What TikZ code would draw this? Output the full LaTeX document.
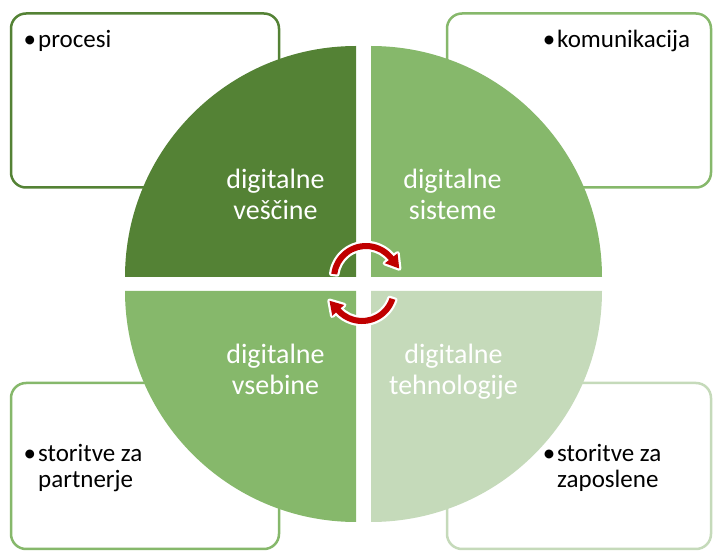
\documentclass[tikz,border=0pt]{standalone}
\usepackage{fontspec}
\setmainfont{Carlito}
\definecolor{dkgreen}{RGB}{84,130,53}
\definecolor{mdgreen}{RGB}{134,184,107}
\definecolor{ltgreen}{RGB}{197,218,186}
\definecolor{cycred}{RGB}{192,0,0}
\begin{document}
\begin{tikzpicture}[x=1pt, y=1pt,
    box/.style={draw, line width=2.5pt, rounded corners=15pt, fill=white, inner sep=0pt},
    item/.style={font=\fontsize{25}{26.5}\selectfont, align=left, inner sep=0pt, anchor=base west},
    quad/.style={font=\fontsize{28}{31.5}\selectfont, text=white, align=center, inner sep=0pt, anchor=base},
    cyc/.style={fill=cycred, preaction={draw=white, line width=4.5pt, line join=round}}]
  \useasboundingbox (0,0) rectangle (713,552);
  \node[box, draw=dkgreen, minimum width=268pt, minimum height=174pt] (procbox) at (145,451.5) {};
  \node[box, draw=mdgreen, minimum width=264pt, minimum height=174pt] (komubox) at (579,451.5) {};
  \node[box, draw=mdgreen, minimum width=268pt, minimum height=166pt] (partbox) at (145,86) {};
  \node[box, draw=ltgreen, minimum width=264pt, minimum height=166pt] (zapbox) at (579,86) {};
  \fill[dkgreen] (356,275) -- ++(-231,0) arc[start angle=180, end angle=90, radius=231] -- cycle;
  \fill[mdgreen] (371,275) -- ++(0,231) arc[start angle=90, end angle=0, radius=231] -- cycle;
  \fill[mdgreen] (356,261) -- ++(0,-231) arc[start angle=270, end angle=180, radius=231] -- cycle;
  \fill[ltgreen] (371,261) -- ++(231,0) arc[start angle=0, end angle=-90, radius=231] -- cycle;
  \node[quad] (vescine) at (275.5,332) {digitalne\\veščine};
  \node[quad] (sisteme) at (452.5,332) {digitalne\\sisteme};
  \node[quad] (vsebine) at (275.5,157) {digitalne\\vsebine};
  \node[quad] (tehno) at (453.5,157) {digitalne\\tehnologije};
  \node[item] (procesi) at (38,504) {\llap{\textbullet\hspace{2pt}}procesi};
  \node[item] (komu) at (557,504) {\llap{\textbullet\hspace{2pt}}komunikacija};
  \node[item] (partner) at (38,64) {\llap{\textbullet\hspace{2pt}}storitve za\\partnerje};
  \node[item] (zaposl) at (557,64) {\llap{\textbullet\hspace{2pt}}storitve za\\zaposlene};
  \begin{scope}[shift={(366,274)}]
    \path[cyc] (173:35) arc[start angle=173, end angle=38, radius=35] -- (38:40) -- (33.2,9.5)
      -- (38:24) -- (38:29) arc[start angle=38, end angle=173, radius=29] -- cycle;
  \end{scope}
  \begin{scope}[shift={(362,263)}]
    \path[cyc] (-18:35) arc[start angle=-18, end angle=-138, radius=35] -- (-138:40) -- (-32.5,-11.75)
      -- (-138:24) -- (-138:29) arc[start angle=-138, end angle=-18, radius=29] -- cycle;
  \end{scope}
\end{tikzpicture}
\end{document}
